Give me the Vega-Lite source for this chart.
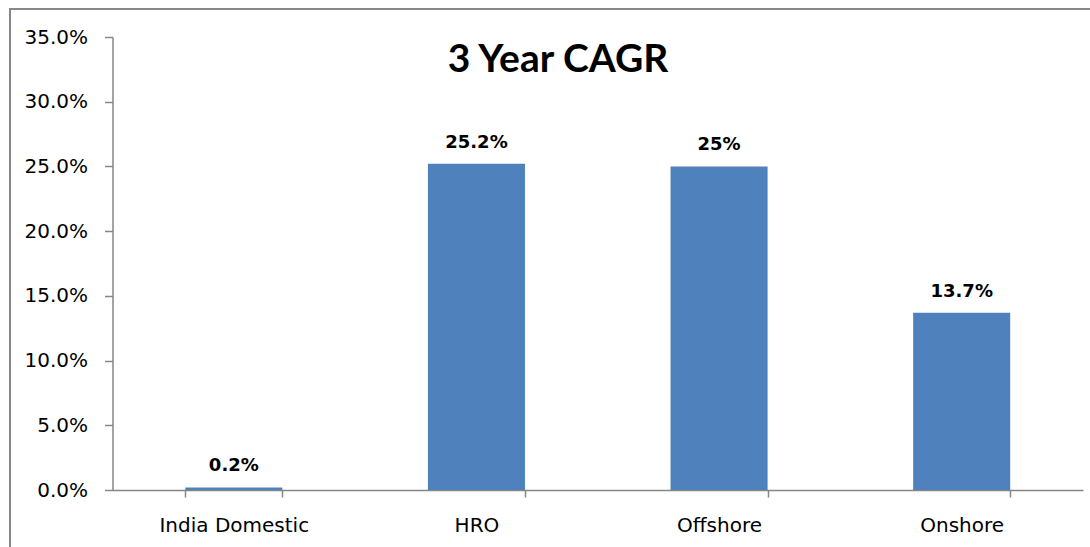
{
  "$schema": "https://vega.github.io/schema/vega-lite/v6.json",
  "autosize": {"type": "none"},
  "padding": {"left": 10, "top": 9, "right": 0, "bottom": 0},
  "width": 1085,
  "height": 545,
  "background": "white",
  "view": {"stroke": "#888888", "strokeWidth": 2},
  "title": {
    "text": "3 Year CAGR",
    "font": "Lato",
    "fontWeight": "bold",
    "fontSize": 39,
    "color": "black",
    "anchor": "middle",
    "frame": "group",
    "orient": "top",
    "offset": -102,
    "baseline": "alphabetic",
    "dx": 5.5
  },
  "data": {
    "values": [
      {"segment": "India Domestic", "cagr": 0.002},
      {"segment": "HRO", "cagr": 0.252},
      {"segment": "Offshore", "cagr": 0.25},
      {"segment": "Onshore", "cagr": 0.137}
    ]
  },
  "encoding": {
    "x": {
      "field": "segment",
      "type": "nominal",
      "sort": null,
      "scale": {"range": [102.5, 1073], "paddingInner": 0.6, "paddingOuter": 0.3},
      "axis": {
        "orient": "bottom",
        "offset": -64,
        "title": null,
        "labelAngle": 0,
        "domainColor": "#868686",
        "domainWidth": 1.5,
        "tickColor": "#868686",
        "tickWidth": 1.5,
        "tickSize": 7,
        "tickBand": "extent",
        "labelFont": "DejaVu Sans",
        "labelFontSize": 20,
        "labelColor": "black",
        "labelBaseline": "alphabetic",
        "labelPadding": 34,
        "grid": false
      }
    },
    "y": {
      "field": "cagr",
      "type": "quantitative",
      "scale": {"domain": [0, 0.35], "range": [481, 28], "nice": false, "zero": true},
      "axis": {
        "orient": "left",
        "offset": -102.5,
        "title": null,
        "values": [0, 0.05, 0.1, 0.15, 0.2, 0.25, 0.3, 0.35],
        "format": ".1%",
        "grid": false,
        "domainColor": "#868686",
        "domainWidth": 1.5,
        "tickColor": "#868686",
        "tickWidth": 1.5,
        "tickSize": 8,
        "labelFont": "DejaVu Sans",
        "labelFontSize": 20,
        "labelColor": "black",
        "labelPadding": 17,
        "labelBaseline": "middle"
      }
    }
  },
  "layer": [
    {"mark": {"type": "bar", "color": "#4F81BD"}},
    {
      "mark": {"type": "text", "font": "DejaVu Sans", "fontWeight": "bold", "fontSize": 18, "baseline": "alphabetic", "dy": -16, "color": "black"},
      "encoding": {"text": {"field": "cagr", "type": "quantitative", "format": ".1~%"}}
    }
  ]
}
